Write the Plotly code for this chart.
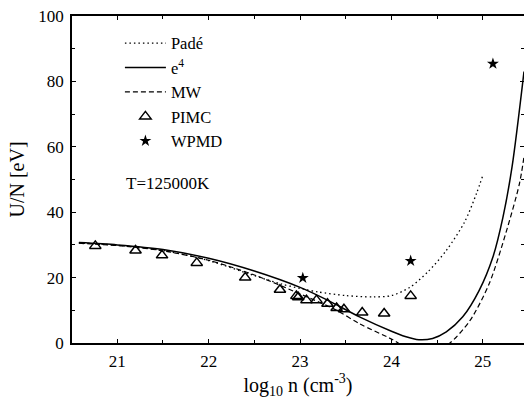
import plotly.graph_objects as go

# Padé (dotted)
pade_x = [20.58, 21.0, 21.5, 22.0, 22.5, 22.8, 23.0, 23.2, 23.5, 23.8, 24.0, 24.2, 24.4, 24.6, 24.8, 24.93, 25.0]
pade_y = [30.6, 29.9, 28.3, 25.2, 20.6, 18.0, 16.7, 15.6, 14.5, 14.1, 14.5, 17.0, 21.8, 28.3, 37.0, 45.7, 51.3]

# e^4 (solid)
e4_x = [20.58, 21.0, 21.5, 22.0, 22.5, 23.0, 23.3, 23.65, 24.0, 24.15, 24.3, 24.45, 24.6, 24.78, 24.96, 25.11, 25.22, 25.32, 25.45]
e4_y = [30.7, 30.0, 28.6, 25.9, 22.0, 17.0, 13.1, 8.0, 3.6, 2.0, 1.0, 1.4, 3.4, 8.0, 16.1, 26.3, 38.5, 54.0, 83.0]

# MW (dashed)
mw_x = [20.58, 21.0, 21.5, 22.0, 22.5, 23.0, 23.4, 23.65, 24.0, 24.2, 24.35, 24.5, 24.64, 24.86, 25.07, 25.25, 25.40, 25.45]
mw_y = [30.5, 29.8, 28.2, 25.3, 20.8, 15.0, 10.0, 5.9, 1.2, -2.0, -3.0, -2.0, 0.0, 6.9, 18.2, 33.5, 48.7, 57.0]

# PIMC (open triangles)
pimc_x = [20.76, 21.20, 21.49, 21.87, 22.40, 22.78, 22.96, 22.98, 23.07, 23.18, 23.30, 23.40, 23.48, 23.68, 23.92, 24.21]
pimc_y = [29.7, 28.3, 26.8, 24.5, 20.0, 16.3, 14.4, 14.0, 13.1, 13.1, 12.0, 10.7, 10.3, 9.3, 9.0, 14.4]

# WPMD (stars)
wpmd_x = [23.03, 24.21, 25.11]
wpmd_y = [19.9, 25.1, 85.4]

FONT = "Liberation Serif"

fig = go.Figure()
fig.add_trace(go.Scatter(x=pade_x, y=pade_y, mode="lines", name="Padé",
                         line=dict(color="black", width=1.3, dash="1.5px,3px", shape="spline", smoothing=0.8)))
fig.add_trace(go.Scatter(x=e4_x, y=e4_y, mode="lines", name="e<sup>4</sup>",
                         line=dict(color="black", width=1.5, shape="spline", smoothing=0.8)))
fig.add_trace(go.Scatter(x=mw_x, y=mw_y, mode="lines", name="MW",
                         line=dict(color="black", width=1.2, dash="5px,3px", shape="spline", smoothing=0.8)))
fig.add_trace(go.Scatter(x=pimc_x, y=pimc_y, mode="markers", name="PIMC",
                         marker=dict(symbol="triangle-up-open", size=10, color="black",
                                     line=dict(width=1.5, color="black"))))
fig.add_trace(go.Scatter(x=wpmd_x, y=wpmd_y, mode="markers", name="WPMD",
                         marker=dict(symbol="star", size=9, color="black", line=dict(width=0))))

fig.add_annotation(x=21.56, y=48.8, text="T=125000K", showarrow=False,
                   font=dict(family=FONT, size=17, color="black"))

axis_common = dict(showline=True, linecolor="black", linewidth=1.5, mirror="ticks",
                   ticks="inside", ticklen=4, tickwidth=1, tickcolor="black",
                   showgrid=False, zeroline=False, automargin=False,
                   tickfont=dict(family=FONT, size=17, color="black"))

fig.update_xaxes(range=[20.505, 25.45], tickvals=[21, 22, 23, 24, 25],
                 minor=dict(ticks="inside", dtick=0.5, tick0=20.5, ticklen=3, tickcolor="black", showgrid=False),
                 title=dict(text="log<sub>10</sub> n (cm<sup>-3</sup>)", font=dict(family=FONT, size=20, color="black"), standoff=4),
                 ticklabelstandoff=2, **axis_common)
fig.update_yaxes(range=[0, 100], tickvals=[0, 20, 40, 60, 80, 100],
                 minor=dict(ticks="inside", dtick=10, ticklen=3, tickcolor="black", showgrid=False),
                 title=dict(text="U/N [eV]", font=dict(family=FONT, size=20, color="black"), standoff=8),
                 ticklabelstandoff=3, **axis_common)

fig.update_layout(
    width=524, height=403,
    margin=dict(l=72, r=0, t=16, b=60),
    paper_bgcolor="white", plot_bgcolor="white",
    font=dict(family=FONT, size=17, color="black"),
    showlegend=True,
    legend=dict(x=0.106, y=0.97, xanchor="left", yanchor="top", bgcolor="rgba(0,0,0,0)",
                borderwidth=0, font=dict(family=FONT, size=16.5), itemwidth=41,
                tracegroupgap=0),
)

fig.write_html("out.html", config={"displayModeBar": False},
               post_script="document.body.style.margin='0px';document.body.style.overflow='hidden';")
